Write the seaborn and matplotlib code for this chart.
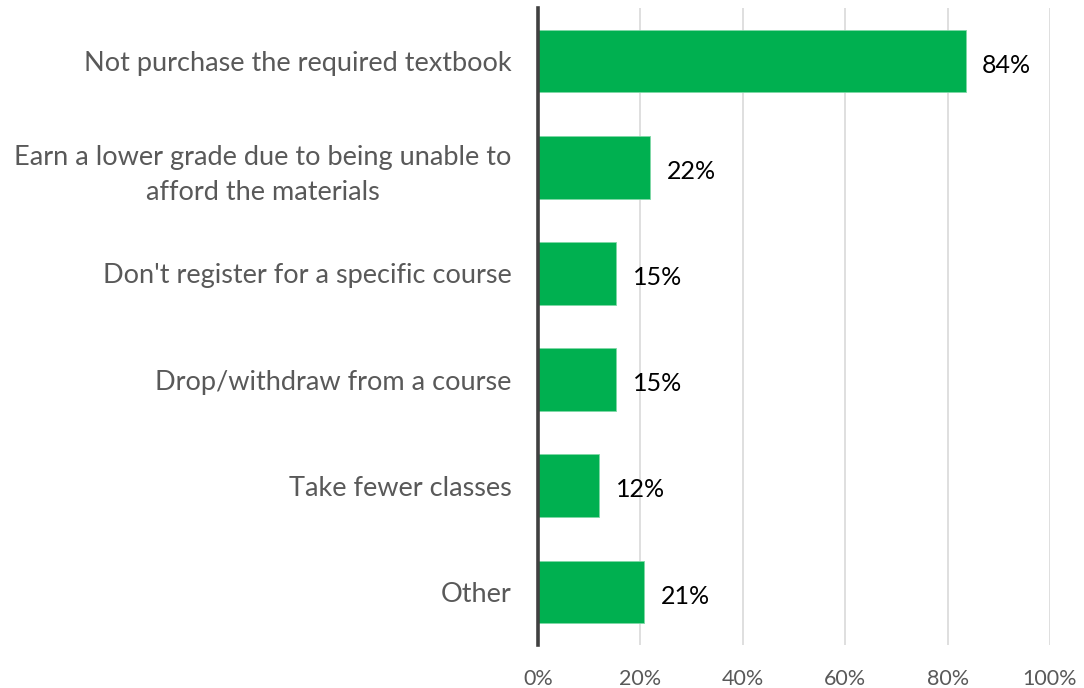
import matplotlib
matplotlib.use("Agg")
import matplotlib.pyplot as plt
import seaborn as sns
import pandas as pd
from matplotlib.ticker import FuncFormatter

categories = [
    "Not purchase the required textbook",
    "Earn a lower grade due to being unable to\nafford the materials",
    "Don't register for a specific course",
    "Drop/withdraw from a course",
    "Take fewer classes",
    "Other",
]
shares = [84, 22, 15, 15, 12, 21]
bar_lengths = [83.5, 21.9, 15.2, 15.2, 11.9, 20.7]
x_ticks = [0, 20, 40, 60, 80, 100]

df = pd.DataFrame({"category": categories, "length": bar_lengths, "share": shares})

sns.set_theme(style="white")
plt.rcParams["font.family"] = ["Lato", "DejaVu Sans"]

fig = plt.figure(figsize=(10.84, 6.88), dpi=100)
ax = fig.add_axes([538 / 1084, 1 - 645 / 688, 512 / 1084, 637 / 688])

sns.barplot(data=df, x="length", y="category", color="#00B050", width=0.59,
            saturation=1, ax=ax, zorder=3, edgecolor="#7fd8a6", linewidth=0.6)

ax.set_xlim(0, 100)
ax.set_xticks(x_ticks)
ax.xaxis.set_major_formatter(FuncFormatter(lambda v, _: f"{v:.0f}%"))
ax.grid(axis="x", color="#d9d9d9", linewidth=1.2, zorder=0)
ax.set_xlabel("")
ax.set_ylabel("")

for s in ["top", "right", "bottom"]:
    ax.spines[s].set_visible(False)
ax.spines["left"].set_color("#404040")
ax.spines["left"].set_linewidth(2.6)
ax.spines["left"].set_zorder(5)

ax.tick_params(axis="x", length=0, pad=17, labelsize=15.5, labelcolor="#595959")
ax.tick_params(axis="y", length=0, pad=19, labelsize=19.5, labelcolor="#595959")
for lbl in ax.get_yticklabels():
    lbl.set_multialignment("center")
    lbl.set_linespacing(1.5)

for i, (L, s) in enumerate(zip(bar_lengths, shares)):
    ax.annotate(f"{s}%", xy=(L, i), xytext=(12, -3), textcoords="offset points",
                ha="left", va="center", fontsize=18, color="black")

fig.savefig("out.png", dpi=100)
